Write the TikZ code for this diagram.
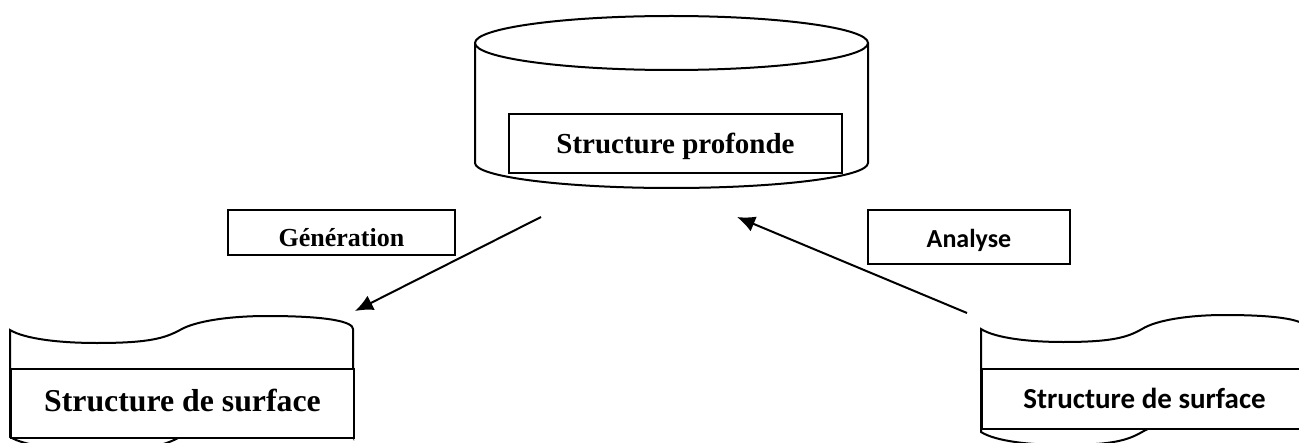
\documentclass[tikz,border=0pt]{standalone}
\usepackage{fontspec}
\setmainfont{Liberation Serif}
\newfontfamily\calibri{Carlito}
\usetikzlibrary{arrows.meta}
\tikzstyle{txtbox}=[draw,fill=white,inner sep=0pt,line width=1pt,anchor=north west]
\tikzstyle{outline}=[draw,fill=white,line width=1pt]
\tikzstyle{flow}=[line width=1pt,-{Latex[length=9pt,width=8pt]}]
\newcommand{\tapepath}[1]{(0,0) .. controls (15,9) and (50,13) .. (87,13)
  .. controls (140,13) and (155,8) .. (170,0) .. controls (185,-9) and (220,-14) .. (257,-14)
  .. controls (320,-14) and (343,-8) .. (343,-1) -- (343,#1-1)
  .. controls (343,#1-8) and (320,#1-14) .. (257,#1-14) .. controls (220,#1-14) and (185,#1-9) .. (170,#1)
  .. controls (155,#1+8) and (140,#1+13) .. (87,#1+13) .. controls (50,#1+13) and (15,#1+9) .. (0,#1) -- cycle}

\begin{document}
\begin{tikzpicture}[x=0.5pt,y=-0.5pt]
\useasboundingbox (0,0) rectangle (1299,443);
% base de la structure profonde
\draw[outline] (475,43) -- (475,163) arc[start angle=180,end angle=360,x radius=98.25pt,y radius=12.5pt] -- (868,43);
\draw[outline] (671.5,43) ellipse[x radius=98.25pt,y radius=13.5pt];
\node[txtbox,minimum width=166.5pt,text height=20pt,text depth=9.5pt,font=\bfseries\fontsize{14.5}{17}\selectfont] (deep) at (508,113) {Structure profonde};
% les deux structures de surface
\draw[outline,shift={(10,330)}] \tapepath{107};
\draw[outline,shift={(981,329)},xscale=0.9475] \tapepath{103};
\node[txtbox,minimum width=171.5pt,text height=21pt,text depth=13.5pt,font=\bfseries\fontsize{15.9}{19}\selectfont] (surfgen) at (10,368) {Structure de surface};
\node[txtbox,minimum width=162.5pt,text height=19.5pt,text depth=10.5pt,font=\calibri\bfseries\fontsize{14.5}{17}\selectfont] (surfana) at (981,368) {Structure de surface};
% etiquettes
\node[txtbox,minimum width=113.5pt,text height=18pt,text depth=4.5pt,font=\bfseries\fontsize{13}{15}\selectfont] (gen) at (227,209) {Génération};
\node[txtbox,minimum width=101pt,text height=19pt,text depth=8pt,font=\calibri\bfseries\fontsize{13}{15}\selectfont] (ana) at (867,209) {Analyse};
% fleches
\coordinate (genfrom) at (541,217);
\coordinate (gento) at (355,311);
\coordinate (anafrom) at (967,313);
\coordinate (anato) at (737,217);
\draw[flow] (genfrom) -- (gento);
\draw[flow] (anafrom) -- (anato);
\end{tikzpicture}
\end{document}
